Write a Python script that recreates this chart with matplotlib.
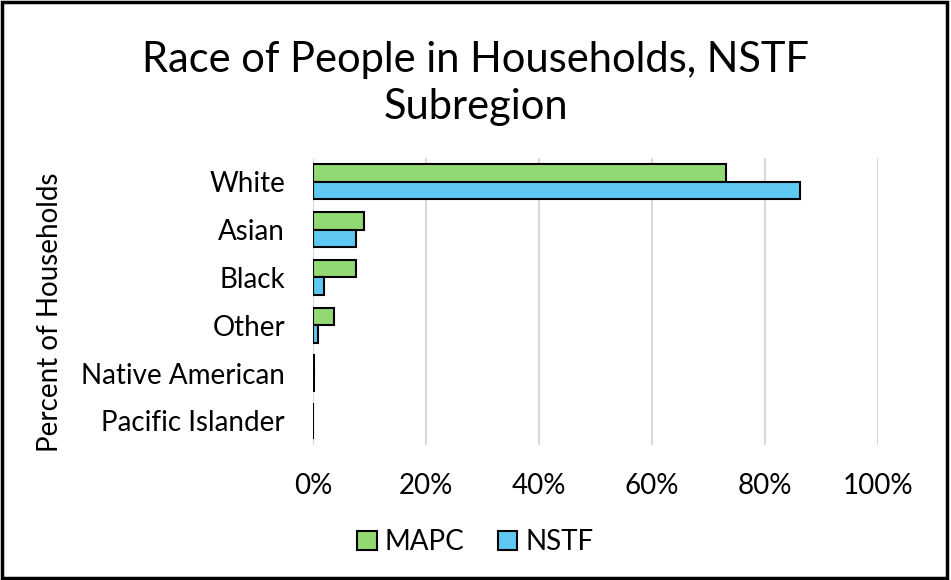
import numpy as np
import matplotlib.pyplot as plt
from matplotlib.patches import Rectangle

plt.rcParams['font.family'] = ['Lato', 'DejaVu Sans']

categories = ['White', 'Asian', 'Black', 'Other', 'Native American', 'Pacific Islander']
mapc = [73.1, 9.0, 7.6, 3.7, 0.2, 0.1]
nstf = [86.2, 7.6, 1.9, 0.9, 0.2, 0.1]

fig = plt.figure(figsize=(9.51, 5.8), dpi=100)
ax = fig.add_axes([0.329, 0.233, 0.594, 0.495])

y = np.arange(len(categories))
h = 0.37
ax.barh(y - h/2, mapc, height=h, color='#92d973', edgecolor='black', linewidth=1.5, label='MAPC', zorder=3)
ax.barh(y + h/2, nstf, height=h, color='#5ec8f2', edgecolor='black', linewidth=1.5, label='NSTF', zorder=3)

ax.set_ylim(len(categories) - 0.5, -0.5)
ax.set_xlim(0, 100)
ax.set_xticks(np.arange(0, 101, 20))
ax.set_xticklabels([f'{v}%' for v in range(0, 101, 20)], fontsize=20)
ax.set_yticks(y)
ax.set_yticklabels(categories, fontsize=20)
ax.tick_params(length=0)
ax.tick_params(axis='y', pad=20)
ax.tick_params(axis='x', pad=20)
ax.grid(axis='x', color='#d9d9d9', linewidth=1.5, zorder=0)
for s in ax.spines.values():
    s.set_visible(False)

fig.text(0.053, 0.462, 'Percent of Households', rotation=90, fontsize=20, ha='center', va='center')
fig.suptitle('Race of People in Households, NSTF\nSubregion', fontsize=30, y=0.93, linespacing=1.3)

fig.legend(loc='lower center', bbox_to_anchor=(0.5, 0.0), ncol=2, frameon=False, fontsize=20,
           handlelength=0.7, handleheight=0.7, handletextpad=0.3, columnspacing=1.2)

fig.patches.append(Rectangle((0.002, 0.003), 0.994, 0.994, transform=fig.transFigure,
                             fill=False, edgecolor='black', linewidth=2.5))

fig.savefig('out.png', dpi=100)
